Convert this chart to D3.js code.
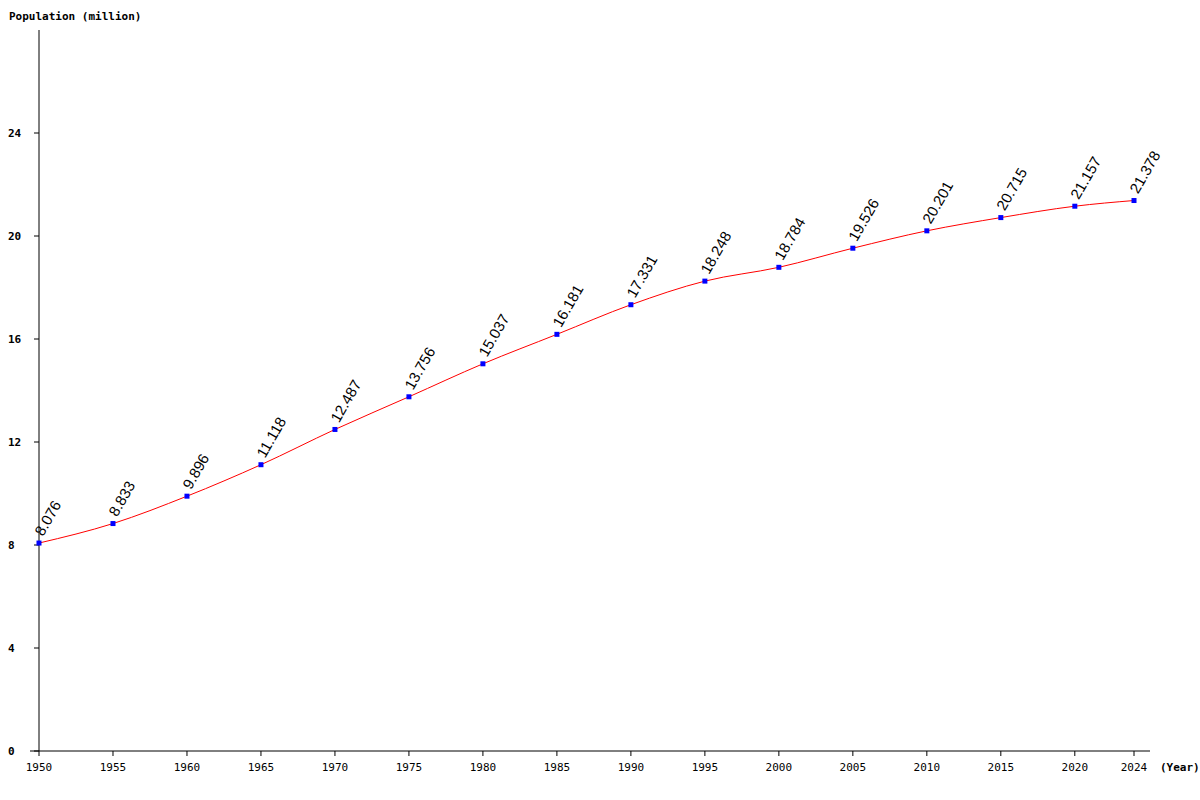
<!DOCTYPE html>
<html><head><meta charset="utf-8">
<script src="https://cdn.jsdelivr.net/npm/d3@7"></script>
<style>body{margin:0;background:#fff}</style>
</head><body>
<svg id="chart" width="1200" height="800"></svg>
<script>
var years = [1950,1955,1960,1965,1970,1975,1980,1985,1990,1995,2000,2005,2010,2015,2020,2024];
var population = [8.076,8.833,9.896,11.118,12.487,13.756,15.037,16.181,17.331,18.248,18.784,19.526,20.201,20.715,21.157,21.378];
var yTicks = [0,4,8,12,16,20,24];

var svg = d3.select("#chart");
var x = d3.scaleLinear().domain([1950,2024]).range([39,1134]);
var y = d3.scaleLinear().domain([0,28]).range([751,30]);
var mono = "'DejaVu Sans Mono', monospace";

// axes
svg.append("line").attr("x1",39).attr("x2",39).attr("y1",30).attr("y2",751).attr("stroke","#000");
svg.append("line").attr("x1",30).attr("x2",1150).attr("y1",751).attr("y2",751).attr("stroke","#000");

yTicks.forEach(function(t){
	svg.append("line").attr("x1",34).attr("x2",39).attr("y1",y(t)).attr("y2",y(t)).attr("stroke","#000");
	svg.append("text").attr("x",8).attr("y",y(t)+4)
		.attr("font-family",mono).attr("font-size",11).attr("font-weight","bold").text(t);
});
years.forEach(function(t){
	svg.append("line").attr("x1",x(t)).attr("x2",x(t)).attr("y1",751).attr("y2",756).attr("stroke","#000");
	svg.append("text").attr("x",x(t)).attr("y",771).attr("text-anchor","middle")
		.attr("font-family",mono).attr("font-size",11).text(t);
});
svg.append("text").attr("x",1160).attr("y",771).attr("font-family",mono).attr("font-size",11)
	.attr("font-weight","bold").text("(Year)");
svg.append("text").attr("x",9).attr("y",20).attr("font-family",mono).attr("font-size",11)
	.attr("font-weight","bold").text("Population (million)");

// line
var line = d3.line().x(function(d,i){return x(years[i]);}).y(function(d){return y(d);}).curve(d3.curveMonotoneX);
svg.append("path").datum(population).attr("d",line).attr("fill","none").attr("stroke","#f00").attr("stroke-width",1);

// markers
svg.selectAll("rect.pt").data(population).enter().append("rect")
	.attr("x",function(d,i){return x(years[i])-2.5;}).attr("y",function(d){return y(d)-2.5;})
	.attr("width",5).attr("height",5).attr("fill","#00f");

// value labels
svg.selectAll("text.val").data(population).enter().append("text")
	.attr("transform",function(d,i){return "translate("+(x(years[i])+4)+","+(y(d)-6)+") rotate(-60)";})
	.attr("font-family","'Liberation Sans', Arial, sans-serif").attr("font-size",15)
	.text(function(d){return d.toFixed(3);});
</script>
</body></html>
